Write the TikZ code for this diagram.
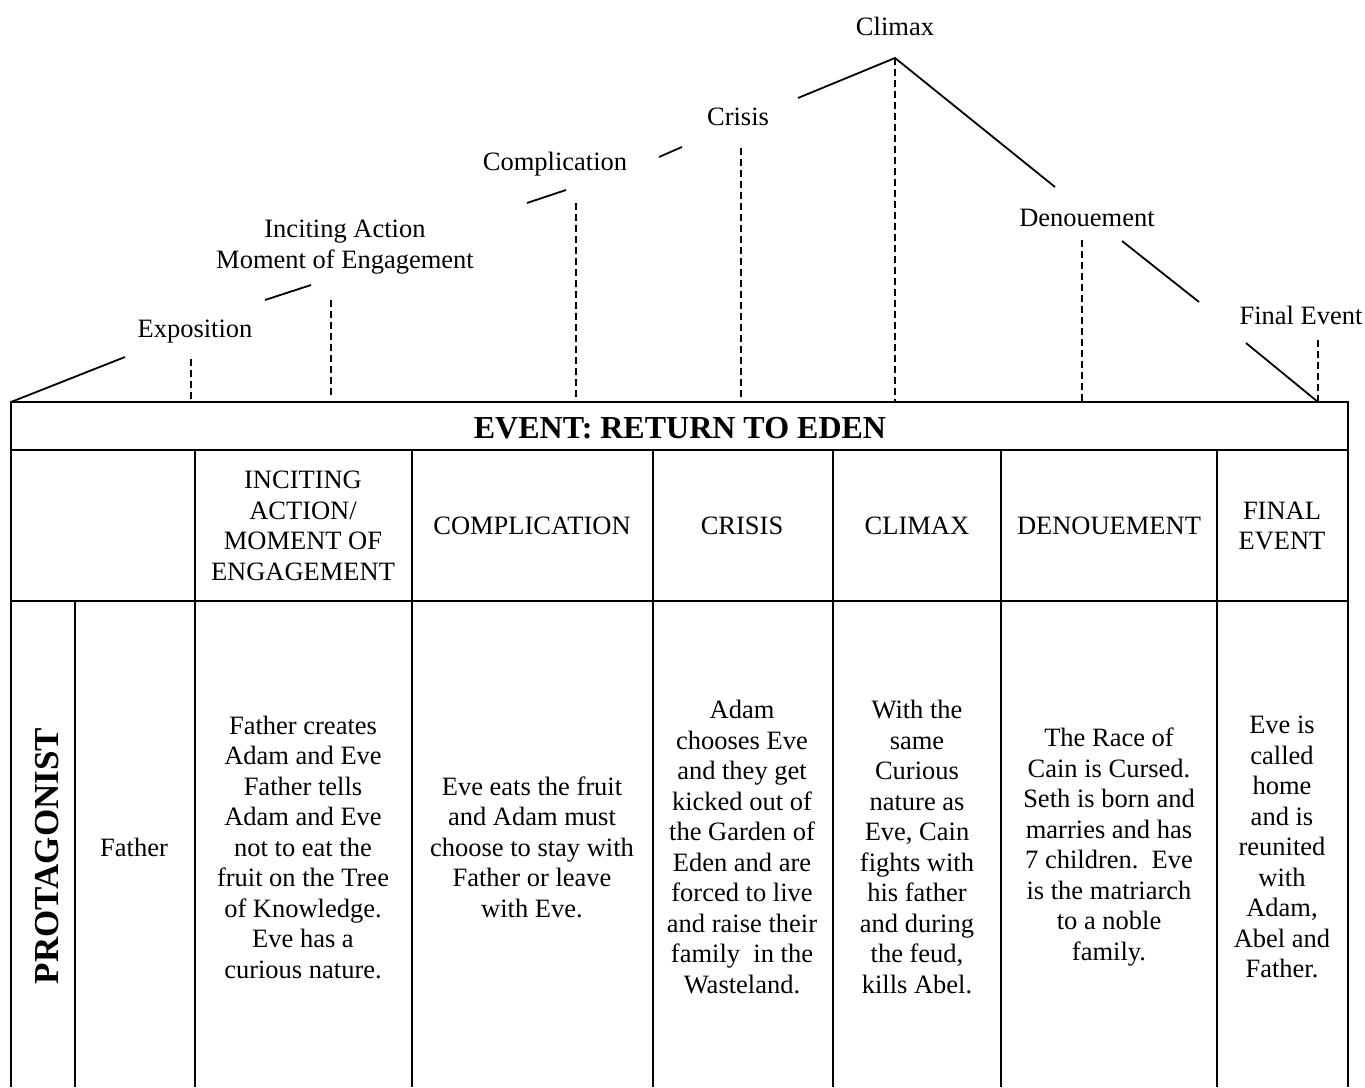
\documentclass[tikz,border=0pt]{standalone}
\usepackage{fontspec}
\setmainfont{Liberation Serif}
\begin{document}
\begin{tikzpicture}[x=1pt,y=-1pt,
 txt/.style={font=\fontsize{26.5}{30.5}\selectfont, align=center, inner sep=0pt},
 title/.style={font=\fontsize{32}{36}\selectfont\bfseries, inner sep=0pt},
 grid/.style={line width=1.6pt},
 plotline/.style={line width=1.8pt},
 guide/.style={line width=2.2pt, dash pattern=on 7pt off 4pt}]
\useasboundingbox (0,0) rectangle (1365,1087);
% ---- plot line coordinates
\coordinate (p0) at (11,402);
\coordinate (p1) at (125,357);
\coordinate (p2) at (265,300);
\coordinate (p3) at (311,285);
\coordinate (p4) at (527,203);
\coordinate (p5) at (566,190);
\coordinate (p6) at (659,157);
\coordinate (p7) at (682,147);
\coordinate (p8) at (798,98);
\coordinate (p9) at (895,58);
\coordinate (p10) at (1055,187);
\coordinate (p11) at (1122,241);
\coordinate (p12) at (1199,302);
\coordinate (p13) at (1246,343);
\coordinate (p14) at (1318,402);
\draw[plotline] (p0) -- (p1);
\draw[plotline] (p2) -- (p3);
\draw[plotline] (p4) -- (p5);
\draw[plotline] (p6) -- (p7);
\draw[plotline] (p8) -- (p9) -- (p10);
\draw[plotline] (p11) -- (p12);
\draw[plotline] (p13) -- (p14);
% ---- dashed guides
\coordinate (d1a) at (191,359); \coordinate (d1b) at (191,402);
\coordinate (d2a) at (331,300); \coordinate (d2b) at (331,396);
\coordinate (d3a) at (576,203); \coordinate (d3b) at (576,401);
\coordinate (d4a) at (741,148); \coordinate (d4b) at (741,401);
\coordinate (d5a) at (895,58);  \coordinate (d5b) at (895,402);
\coordinate (d6a) at (1082,240); \coordinate (d6b) at (1082,402);
\coordinate (d7a) at (1318,340); \coordinate (d7b) at (1318,402);
\foreach \i in {1,...,7} \draw[guide] (d\i a) -- (d\i b);
% ---- labels
\node[txt] (lexp) at (195,332) {Exposition};
\node[txt] (linc) at (345,247) {Inciting Action\\Moment of Engagement};
\node[txt] (lcomp) at (555,164) {Complication};
\node[txt] (lcri) at (738,117) {Crisis};
\node[txt] (lcli) at (895,26) {Climax};
\node[txt] (lden) at (1087,218) {Denouement};
\node[txt] (lfin) at (1301,315) {Final Event};
% ---- table
\draw[grid] (11,1087) -- (11,402) -- (1348,402) -- (1348,1087);
\draw[grid] (11,450) -- (1348,450);
\draw[grid] (11,601) -- (1348,601);
\foreach \x in {195,412,653,833,1001,1217} \draw[grid] (\x,450) -- (\x,1087);
\draw[grid] (75,601) -- (75,1087);
\node[title] (ttl) at (680,428) {EVENT: RETURN TO EDEN};
% headers
\node[txt] (h1) at (303,526) {INCITING\\ACTION/\\MOMENT OF\\ENGAGEMENT};
\node[txt] (h2) at (532,526) {COMPLICATION};
\node[txt] (h3) at (742,526) {CRISIS};
\node[txt] (h4) at (917,526) {CLIMAX};
\node[txt] (h5) at (1109,526) {DENOUEMENT};
\node[txt] (h6) at (1282,526) {FINAL\\EVENT};
% body
\node[font=\fontsize{35}{38}\selectfont\bfseries, inner sep=0pt, rotate=90] (prot) at (47,856) {PROTAGONIST};
\node[txt] (b0) at (134,847) {Father};
\node[txt] (b1) at (303,847) {Father creates\\Adam and Eve\\Father tells\\Adam and Eve\\not to eat the\\fruit on the Tree\\of Knowledge.\\Eve has a\\curious nature.};
\node[txt] (b2) at (532,847) {Eve eats the fruit\\and Adam must\\choose to stay with\\Father or leave\\with Eve.};
\node[txt] (b3) at (742,847) {Adam\\chooses Eve\\and they get\\kicked out of\\the Garden of\\Eden and are\\forced to live\\and raise their\\family\ \ in the\\Wasteland.};
\node[txt] (b4) at (917,847) {With the\\same\\Curious\\nature as\\Eve, Cain\\fights with\\his father\\and during\\the feud,\\kills Abel.};
\node[txt] (b5) at (1109,847) {The Race of\\Cain is Cursed.\\Seth is born and\\marries and has\\7 children.\ \ Eve\\is the matriarch\\to a noble\\family.};
\node[txt] (b6) at (1282,847) {Eve is\\called\\home\\and is\\reunited\\with\\Adam,\\Abel and\\Father.};
\end{tikzpicture}
\end{document}
